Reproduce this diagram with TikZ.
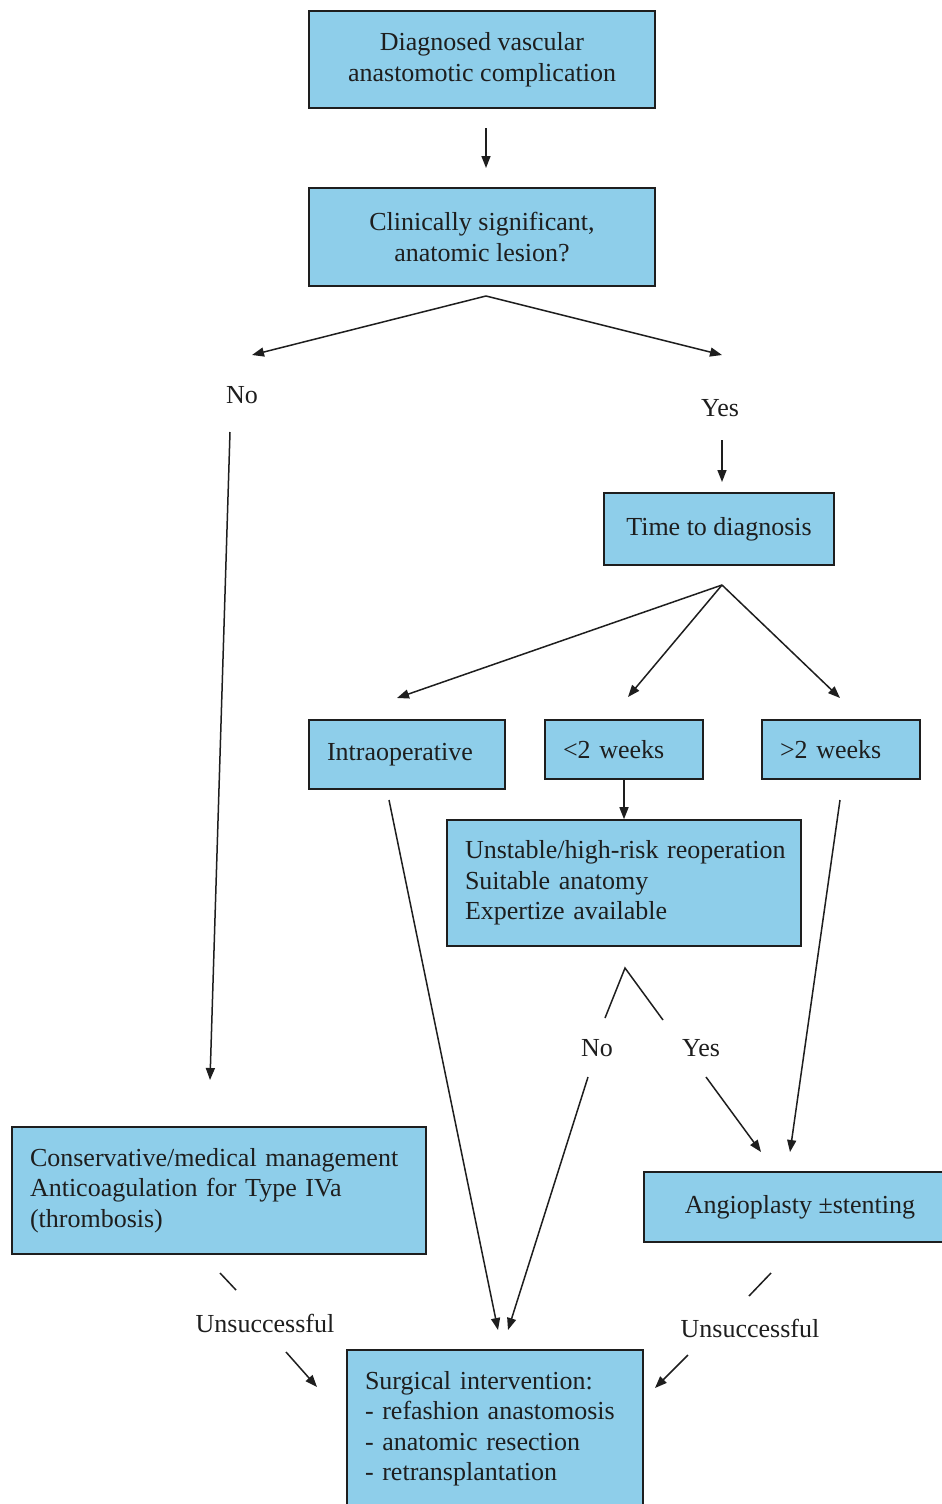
\documentclass[tikz,border=0pt]{standalone}
\usepackage{fontspec}
\setmainfont{Liberation Serif}
\usetikzlibrary{arrows.meta}
\definecolor{boxblue}{HTML}{8ECEEA}
\definecolor{ink}{HTML}{1E1E1E}
\hyphenpenalty=10000\relax
\exhyphenpenalty=10000\relax
\hfuzz=30pt\relax
\hbadness=10000\relax
\begin{document}
\begin{tikzpicture}[x=1pt,y=-1pt,
  every node/.style={font=\fontsize{26}{30.5}\selectfont, text=ink},
  box/.style={draw=ink, fill=boxblue, line width=1.6pt, rectangle, inner xsep=18pt, inner ysep=0pt, align=center},
  lbox/.style={box, align=left},
  lbl/.style={inner sep=0pt},
  arr/.style={draw=ink, line width=1.5pt, -{Triangle[length=12pt,width=9pt]}},
  ln/.style={draw=ink, line width=1.5pt}]
\useasboundingbox (0,0) rectangle (942,1504);
\fill[white] (0,0) rectangle (942,1504);

% boxes
\node[box, minimum width=346pt, minimum height=97pt] (top) at (482,59.5) {Diagnosed vascular\\anastomotic complication};
\node[box, minimum width=346pt, minimum height=98pt] (q) at (482,237) {Clinically significant,\\anatomic lesion?};
\node[box, minimum width=230pt, minimum height=72pt] (time) at (719,529) {Time to diagnosis};
\node[lbox, text width=160pt, minimum height=69pt] (intra) at (407,754.5) {Intraoperative};
\node[lbox, text width=122pt, minimum height=59pt] (lt2) at (624,749.5) {<2 weeks};
\node[lbox, text width=122pt, minimum height=59pt] (gt2) at (841,749.5) {>2 weeks};
\node[lbox, text width=318pt, minimum height=126pt] (unst) at (624,883) {\mbox{Unstable/high-risk reoperation}\\Suitable anatomy\\Expertize available};
\node[lbox, text width=378pt, minimum height=127pt] (cons) at (219,1190.5) {\mbox{Conservative/medical management}\\Anticoagulation for Type IVa\\(thrombosis)};
\node[box, minimum width=312pt, minimum height=70pt] (angio) at (800,1207) {Angioplasty ±stenting};
\node[lbox, text width=260pt, minimum height=157pt] (surg) at (495,1428.5) {Surgical intervention:\\- refashion anastomosis\\- anatomic resection\\- retransplantation};

% labels
\node[lbl] (no1) at (242,395) {No};
\node[lbl] (yes1) at (720,408) {Yes};
\node[lbl] (no2) at (597,1048) {No};
\node[lbl] (yes2) at (701,1048) {Yes};
\node[lbl] (un1) at (265,1323) {Unsuccessful};
\node[lbl] (un2) at (750,1328) {Unsuccessful};

% coordinates
\coordinate (a1) at (486,128);
\coordinate (a2) at (486,168);
\coordinate (s1) at (486,296);
\coordinate (s1l) at (252,355);
\coordinate (s1r) at (722,355);
\coordinate (y1a) at (722,440);
\coordinate (y1b) at (722,482);
\coordinate (n1a) at (230,432);
\coordinate (n1b) at (210,1080);
\coordinate (s2) at (722,585);
\coordinate (s2a) at (397,698);
\coordinate (s2b) at (628,697);
\coordinate (s2c) at (840,698);
\coordinate (ia) at (389,800);
\coordinate (ib) at (498,1330);
\coordinate (s3) at (625,968);
\coordinate (s3l) at (605,1018);
\coordinate (s3r) at (663,1020);
\coordinate (n2a) at (588,1077);
\coordinate (n2b) at (508,1330);
\coordinate (y2a) at (706,1077);
\coordinate (y2b) at (761,1152);
\coordinate (ga) at (840,800);
\coordinate (gb) at (790,1152);
\coordinate (u1a) at (220,1273);
\coordinate (u1b) at (236,1290);
\coordinate (u1c) at (286,1352);
\coordinate (u1d) at (317,1387);
\coordinate (u2a) at (771,1273);
\coordinate (u2b) at (749,1296);
\coordinate (u2c) at (688,1355);
\coordinate (u2d) at (655,1388);

% connectors
\draw[arr] (a1) -- (a2);
\draw[arr] (s1) -- (s1l);
\draw[arr] (s1) -- (s1r);
\draw[arr] (y1a) -- (y1b);
\draw[arr] (n1a) -- (n1b);
\draw[arr] (s2) -- (s2a);
\draw[arr] (s2) -- (s2b);
\draw[arr] (s2) -- (s2c);
\draw[arr] (ia) -- (ib);
\draw[arr] (lt2.south) -- (unst.north);
\draw[ln] (s3l) -- (s3) -- (s3r);
\draw[arr] (n2a) -- (n2b);
\draw[arr] (y2a) -- (y2b);
\draw[arr] (ga) -- (gb);
\draw[ln] (u1a) -- (u1b);
\draw[arr] (u1c) -- (u1d);
\draw[ln] (u2a) -- (u2b);
\draw[arr] (u2c) -- (u2d);
\end{tikzpicture}
\end{document}
